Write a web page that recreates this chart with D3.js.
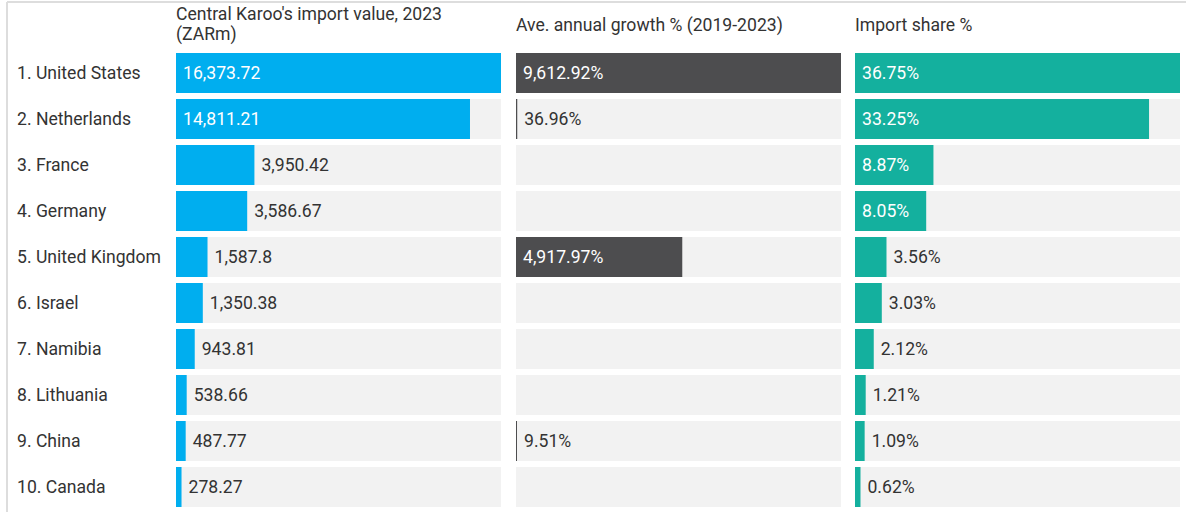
<!DOCTYPE html>
<html>
<head>
<meta charset="utf-8">
<script src="https://cdn.jsdelivr.net/npm/d3@7"></script>
<style>
  html, body { margin: 0; padding: 0; background: #ffffff; }
  svg { display: block; font-family: Roboto, "Noto Sans", sans-serif; }
</style>
</head>
<body>
<svg id="chart" width="1186" height="512"></svg>
<script>
// Top ten import sources for Central Karoo, 2023
const countries = ["United States", "Netherlands", "France", "Germany", "United Kingdom",
                   "Israel", "Namibia", "Lithuania", "China", "Canada"];
const importValue = [16373.72, 14811.21, 3950.42, 3586.67, 1587.8, 1350.38, 943.81, 538.66, 487.77, 278.27];
// Average annual growth; null where no figure is reported
const annualGrowth = [9612.92, 36.96, null, null, 4917.97, null, null, null, 9.51, null];
const importShare = [36.75, 33.25, 8.87, 8.05, 3.56, 3.03, 2.12, 1.21, 1.09, 0.62];

const columnTitles = [
  ["Central Karoo's import value, 2023", "(ZARm)"],
  ["Ave. annual growth % (2019-2023)"],
  ["Import share %"]
];

const svg = d3.select("#chart");
const W = 1186, H = 512;

// frame lines along top and left edges
svg.append("line").attr("x1", 7).attr("x2", W).attr("y1", 2).attr("y2", 2)
  .attr("stroke", "#dddddd").attr("stroke-width", 2);
svg.append("line").attr("x1", 7).attr("x2", 7).attr("y1", 2).attr("y2", H)
  .attr("stroke", "#dddddd").attr("stroke-width", 2);

const rows = countries.map((c, i) => `${i + 1}. ${c}`);
const y = d3.scaleBand().domain(rows).range([53, 507]).paddingInner(6 / 46).paddingOuter(0);

const fontSize = 17.6;
const textColor = "#333333";

// country labels
svg.append("g").selectAll("text").data(rows).join("text")
  .attr("x", 17)
  .attr("y", d => y(d) + y.bandwidth() / 2 - 0.5)
  .attr("dy", "0.36em")
  .attr("font-size", fontSize)
  .attr("fill", textColor)
  .text(d => d);

const panelWidth = 325;
const columns = [
  { x0: 176, values: importValue, color: "#00aeef", fmt: d3.format(",.2~f"), suffix: "" },
  { x0: 516, values: annualGrowth, color: "#4d4d4f", fmt: d3.format(",.2f"), suffix: "%" },
  { x0: 855, values: importShare, color: "#14b09e", fmt: d3.format(".2f"), suffix: "%" }
];

const pad = 7;

columns.forEach((col, ci) => {
  const g = svg.append("g").attr("transform", `translate(${col.x0},0)`);
  const x = d3.scaleLinear().domain([0, d3.max(col.values)]).range([0, panelWidth]);

  // column heading
  const title = columnTitles[ci];
  const lineH = 20;
  const centerY = title.length > 1 ? 24 : 25;
  g.append("text")
    .attr("font-size", fontSize)
    .attr("fill", textColor)
    .selectAll("tspan").data(title).join("tspan")
    .attr("x", 0)
    .attr("y", (d, i) => centerY + (i - (title.length - 1) / 2) * lineH)
    .attr("dy", "0.36em")
    .text(d => d);

  const data = rows.map((r, i) => ({ row: r, v: col.values[i] }));

  // track backgrounds
  g.selectAll("rect.track").data(data).join("rect")
    .attr("class", "track")
    .attr("x", 0)
    .attr("y", d => y(d.row))
    .attr("width", panelWidth)
    .attr("height", y.bandwidth())
    .attr("fill", "#f2f2f2");

  const present = data.filter(d => d.v != null);

  g.selectAll("rect.bar").data(present).join("rect")
    .attr("class", "bar")
    .attr("x", 0)
    .attr("y", d => y(d.row))
    .attr("width", d => Math.max(1, x(d.v)))
    .attr("height", y.bandwidth())
    .attr("fill", col.color);

  const labels = g.selectAll("text.val").data(present).join("text")
    .attr("class", "val")
    .attr("y", d => y(d.row) + y.bandwidth() / 2 - 0.5)
    .attr("dy", "0.36em")
    .attr("font-size", fontSize)
    .text(d => col.fmt(d.v) + col.suffix);

  // value sits inside the bar when it fits, otherwise just past its end
  labels.each(function (d) {
    const tw = this.getComputedTextLength();
    const bw = Math.max(1, x(d.v));
    const inside = tw + 2 * pad <= bw;
    d3.select(this)
      .attr("x", inside ? pad : bw + pad)
      .attr("fill", inside ? "#ffffff" : textColor);
  });
});
</script>
</body>
</html>
